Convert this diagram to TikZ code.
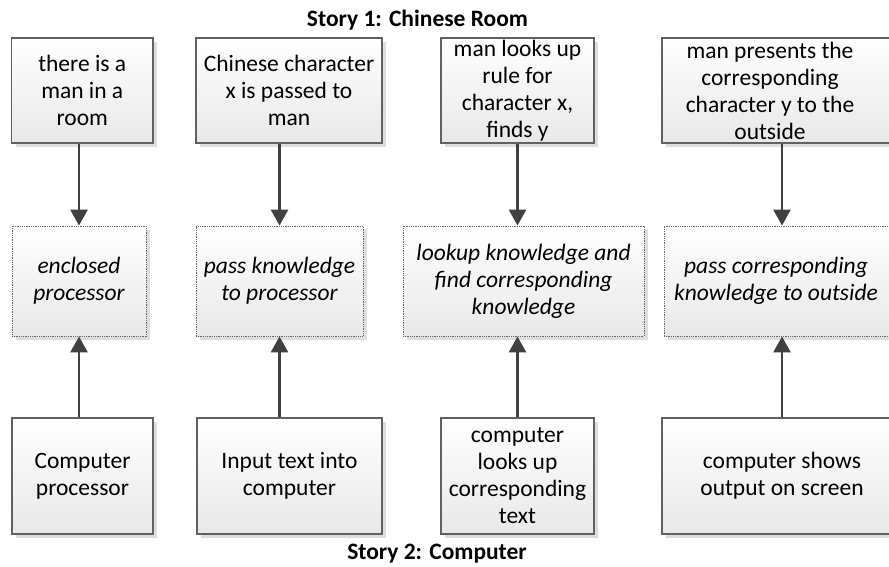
\documentclass[tikz,border=0pt]{standalone}
\usepackage{fontspec}
\setmainfont{Carlito}
\usetikzlibrary{arrows.meta,shadows}
\begin{document}
\begin{tikzpicture}[x=1pt,y=-1pt,
  boxbase/.style={rectangle, inner sep=0pt, align=center,
    font=\fontsize{23.5}{27}\selectfont,
    top color=white, bottom color=black!9,
    drop shadow={shadow xshift=4pt, shadow yshift=-4pt, fill=black!13, opacity=1}},
  solidbox/.style={boxbase, draw=black!62, line width=1.1pt},
  dotbox/.style={boxbase, draw=black!60, line width=0.9pt, dash pattern=on 0.9pt off 0.9pt,
    font=\fontsize{23.5}{27}\selectfont\itshape},
  boxtext/.style={inner sep=0pt, align=center, font=\fontsize{23.5}{27}\selectfont},
  title/.style={inner sep=0pt, font=\fontsize{23.5}{27}\selectfont\bfseries},
  arr/.style={draw=black!75, line width=2.8pt, -{Triangle[length=16pt,width=17pt]}}
]
\useasboundingbox (0,0) rectangle (889,567);
\fill[white] (0,0) rectangle (889,567);

\node[title] (title1) at (417.5,20) {Story 1: Chinese Room};
\node[title] (title2) at (437,554) {Story 2: Computer};

% top row
\node[solidbox, minimum width=141.5pt, minimum height=105pt] (t1) at (82.25,90.5) {there is a\\man in a\\room};
\node[solidbox, minimum width=186pt, minimum height=105pt] (t2) at (289,90.5) {Chinese character\\x is passed to\\man};
\node[solidbox, minimum width=153pt, minimum height=105pt] (t3) at (517.5,90.5) {man looks up\\rule for\\character x,\\finds y};
\node[solidbox, minimum width=240pt, minimum height=105pt] (t4) at (782,90.5) {};
\node[boxtext] (t4text) at (770,90.5) {man presents the\\corresponding\\character y to the\\outside};

% middle row
\node[dotbox, minimum width=134pt, minimum height=110pt] (m1) at (79,281) {enclosed\\processor};
\node[dotbox, minimum width=167pt, minimum height=110pt] (m2) at (279.5,281) {pass knowledge\\to processor};
\node[dotbox, minimum width=241pt, minimum height=110pt] (m3) at (523.5,281) {lookup knowledge and\\find corresponding\\knowledge};
\node[dotbox, minimum width=236pt, minimum height=110pt] (m4) at (782,281) {};
\node[boxtext, font=\fontsize{23.5}{27}\selectfont\itshape] (m4text) at (776,281) {pass corresponding\\knowledge to outside};

% bottom row
\node[solidbox, minimum width=141pt, minimum height=116pt] (b1) at (82.5,476) {Computer\\processor};
\node[solidbox, minimum width=185pt, minimum height=116pt] (b2) at (289.5,476) {Input text into\\computer};
\node[solidbox, minimum width=153pt, minimum height=116pt] (b3) at (517.5,476) {computer\\looks up\\corresponding\\text};
\node[solidbox, minimum width=240pt, minimum height=116pt] (b4) at (782,476) {computer shows\\output on screen};

% arrows
\draw[arr] (t1.south -| m1.north) -- (m1.north);
\draw[arr] (t2.south -| m2.north) -- (m2.north);
\draw[arr] (t3.south) -- (t3.south |- m3.north);
\draw[arr] (t4.south) -- (m4.north);

\draw[arr] (b1.north -| m1.south) -- (m1.south);
\draw[arr] (b2.north -| m2.south) -- (m2.south);
\draw[arr] (b3.north) -- (b3.north |- m3.south);
\draw[arr] (b4.north) -- (m4.south);
\end{tikzpicture}
\end{document}
